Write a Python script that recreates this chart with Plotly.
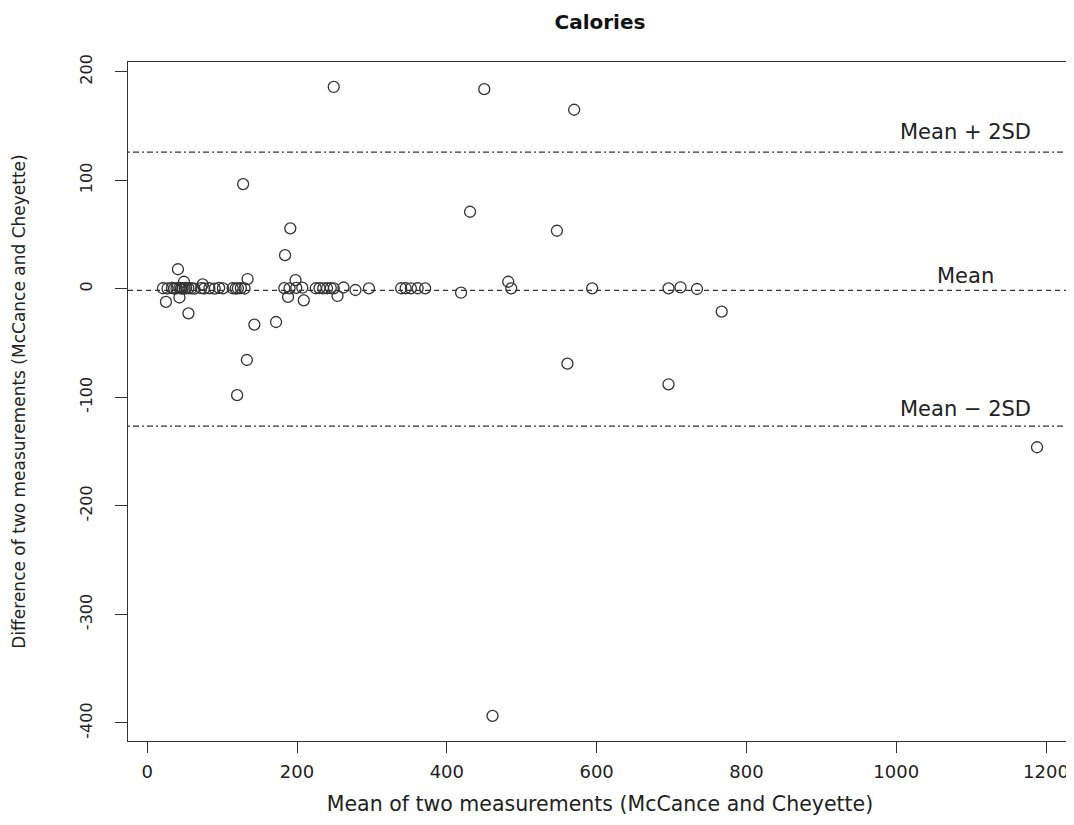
import plotly.graph_objects as go

# Mean of two measurements (x) and difference (y)
x_zero = [21, 27, 33, 36, 39, 43, 45, 47, 50, 52, 55, 59, 63, 72, 76, 83, 90, 96, 101, 114, 118, 121, 125, 130,
          183, 190, 199, 207, 225, 230, 235, 240, 245, 249, 262, 278, 296,
          339, 345, 352, 361, 371, 486, 594, 696, 712, 734]
y_zero = [0.5, 0.3, 0.8, 0.2, 0.5, 0.9, 0.3, 0.6, 0.2, 0.8, 0.4, 0.5, 0.2, 0.6, 0.3, 0.5, 0.2, 0.8, 0.4, 0.5, 0.3, 0.4, 0.6, 0.3,
          0.6, 0.4, 0.8, 1.0, 0.5, 0.6, 0.4, 0.5, 0.7, 0.4, 1.2, -1.1, 0.4,
          0.5, 0.5, 0.4, 0.5, 0.4, 0.4, 0.4, 0.4, 1.4, -0.2]

x_other = [41, 49, 134, 74, 25, 43, 55, 198, 184, 191, 128, 188, 209, 254, 172, 143, 133, 120,
           249, 450, 570, 431, 547, 561, 696, 767, 461, 1188, 482, 419]
y_other = [18, 6.5, 9, 4, -12, -8, -22.6, 8, 31, 55.7, 96.5, -7.5, -10.6, -6.6, -30.6, -33, -65.6, -98,
           186, 184, 165, 71, 53.5, -69, -88, -21, -393.5, -146, 6.5, -3.6]

x_vals = x_zero + x_other
y_vals = y_zero + y_other

mean_diff = -1.5
upper_limit = 126.0
lower_limit = -126.5

x_ticks = [0, 200, 400, 600, 800, 1000, 1200]
y_ticks = [-400, -300, -200, -100, 0, 100, 200]

x_range = [-25.7, 1234.7]
y_range = [-416.7, 209.0]

FONT = "DejaVu Sans, Verdana, sans-serif"
INK = "#222222"

fig = go.Figure()
fig.add_trace(go.Scatter(
    x=x_vals, y=y_vals, mode="markers",
    marker=dict(symbol="circle-open", size=11, color="#333333", line=dict(width=1.3, color="#333333")),
    showlegend=False, hoverinfo="x+y"))

# reference lines
fig.add_trace(go.Scatter(x=x_range, y=[mean_diff, mean_diff], mode="lines",
                         line=dict(color="#333333", width=1.2, dash="5px,4px"),
                         showlegend=False, hoverinfo="skip"))
for lim in (upper_limit, lower_limit):
    fig.add_trace(go.Scatter(x=x_range, y=[lim, lim], mode="lines",
                             line=dict(color="#333333", width=1.2, dash="2px,3px,6px,3px"),
                             showlegend=False, hoverinfo="skip"))

label_x = 1092
for txt, yv, ys in (("Mean", mean_diff, 14), ("Mean + 2SD", upper_limit, 20), ("Mean \u2212 2SD", lower_limit, 17)):
    fig.add_annotation(x=label_x, y=yv, text=txt, showarrow=False, yshift=ys,
                       font=dict(family=FONT, size=21, color=INK))

# page body has an 8px margin, so the figure is sized/offset to place the frame as in the reference
fig.update_layout(
    width=1066, height=817, autosize=False,
    paper_bgcolor="white", plot_bgcolor="white",
    margin=dict(l=120, r=2, t=54, b=84, autoexpand=False),
    font=dict(family=FONT, size=15, color=INK),
    title=dict(text="<b>Calories</b>", x=0.5553, xanchor="center", y=0.983, yanchor="middle",
               font=dict(family=FONT, size=20, color="#111111")),
)
fig.update_xaxes(range=x_range, tickvals=x_ticks, ticktext=[str(v) for v in x_ticks],
                 automargin=False, ticklabeloverflow="allow",
                 showgrid=False, zeroline=False, showline=True, mirror=True,
                 linecolor="#333333", linewidth=1.3, ticks="outside", ticklen=11, tickwidth=1.2,
                 tickcolor="#333333", ticklabelstandoff=3, tickfont=dict(family=FONT, size=18, color=INK),
                 title=dict(text="Mean of two measurements (McCance and Cheyette)", standoff=15,
                            font=dict(family=FONT, size=20.5, color=INK)))
fig.update_yaxes(range=y_range, tickvals=y_ticks, ticktext=[str(v) for v in y_ticks],
                 tickangle=-90, automargin=False, ticklabeloverflow="allow",
                 showgrid=False, zeroline=False, showline=True, mirror=True,
                 linecolor="#333333", linewidth=1.3, ticks="outside", ticklen=12, tickwidth=1.2,
                 tickcolor="#333333", ticklabelstandoff=16, tickfont=dict(family=FONT, size=16, color=INK),
                 title=dict(text="Difference of two measurements (McCance and Cheyette)", standoff=47,
                            font=dict(family=FONT, size=17, color=INK)))

fig.write_html("out.html")
